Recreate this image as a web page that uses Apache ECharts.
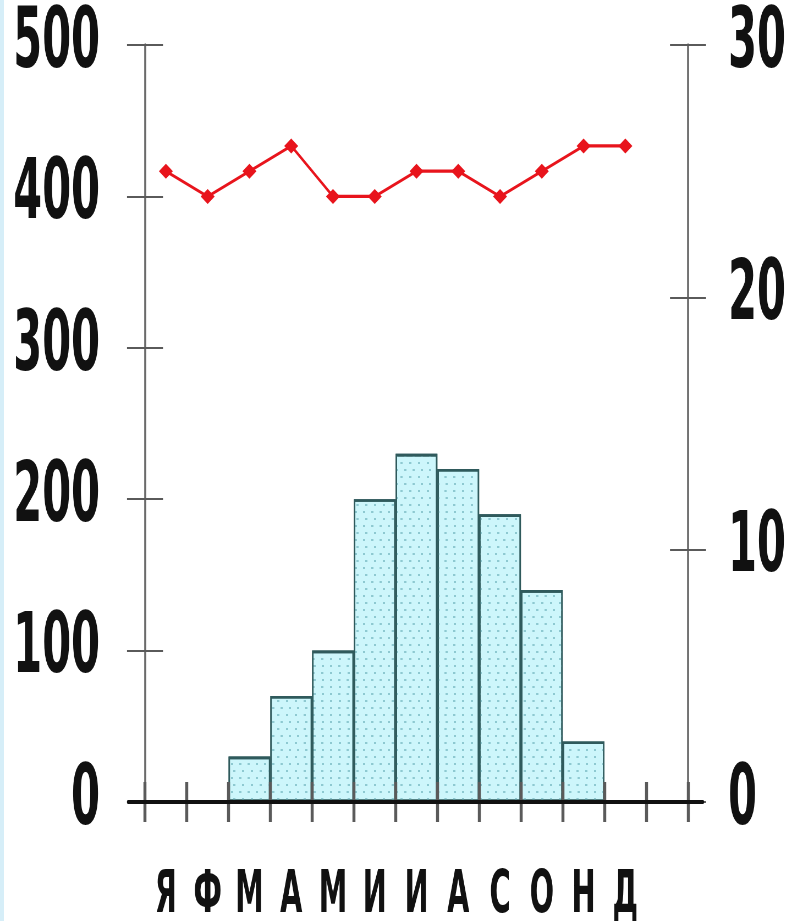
<!DOCTYPE html>
<html>
<head>
<meta charset="utf-8">
<script src="https://cdn.jsdelivr.net/npm/echarts@6/dist/echarts.min.js"></script>
<style>
html,body{margin:0;padding:0;background:#fff;overflow:hidden;width:792px;height:921px;}
#edge{position:absolute;left:0;top:0;width:4px;height:921px;background:#d6eef8;z-index:2;}
#wrap{position:absolute;left:0;top:0;width:792px;height:921px;overflow:hidden;}
#c{position:absolute;left:0;top:0;height:921px;transform-origin:0 0;}
</style>
</head>
<body>
<div id="wrap"><div id="c"></div></div>
<div id="edge"></div>
<script>
// Months (13th slot is an empty spacer column, as in the original)
const months = ['Январь','Февраль','Март','Апрель','Май','Июнь','Июль','Август','Сентябрь','Октябрь','Ноябрь','Декабрь',''];
const monthLetters = ['Я','Ф','М','А','М','И','И','А','С','О','Н','Д',''];
// Precipitation, mm (left axis)
const precipitation = [0,0,30,70,100,200,230,220,190,140,40,0];
// Temperature, °C (right axis)
const temperature = [25,24,25,26,24,24,25,25,24,25,26,26];
// Axis ranges
const leftTicks = {min:0,max:500,interval:100};
const rightTicks = {min:0,max:30,interval:10};

// The original uses a very condensed bold face; emulate by drawing the chart
// wider and squeezing it horizontally. S converts final px to drawing px.
const SX = 0.55, S = 1/SX;
const el = document.getElementById('c');
el.style.width = (792*S) + 'px';
el.style.transform = 'scaleX(' + SX + ')';

const FONT = "'DejaVu Sans Condensed','DejaVu Sans',sans-serif";
const tickGray = '#5a5a5a';
const axisGray = '#6a6a6a';

const chart = echarts.init(el, null, {renderer:'canvas', width:792*S, height:921});
chart.setOption({
  backgroundColor:'#ffffff',
  animation:false,
  grid:[
    {left:145*S, right:104*S, top:45, bottom:119, containLabel:false, outerBoundsMode:'none'},
    {left:128*S, right:89*S, top:45, bottom:119, containLabel:false, outerBoundsMode:'none'}
  ],
  xAxis:[
    {type:'category', gridIndex:0, data:months, boundaryGap:true, position:'bottom', z:10,
     axisLine:{show:false},
     axisTick:{show:true, inside:false, length:20, lineStyle:{color:tickGray,width:3*S}},
     axisLabel:{show:true, interval:0, margin:66, fontFamily:FONT, fontWeight:'bold', fontSize:58, color:'#111',
       formatter:(v,i)=>monthLetters[i]||''},
     splitLine:{show:false}},
    {type:'category', gridIndex:0, data:months, boundaryGap:true, position:'bottom', z:10,
     axisLine:{show:false},
     axisTick:{show:true, inside:true, length:20, lineStyle:{color:tickGray,width:3*S}},
     axisLabel:{show:false}, splitLine:{show:false}},
    {type:'category', gridIndex:1, data:months, position:'bottom', z:11,
     axisLine:{show:true, lineStyle:{color:'#111',width:4}},
     axisTick:{show:false}, axisLabel:{show:false}, splitLine:{show:false}}
  ],
  yAxis:[
    {type:'value', gridIndex:0, position:'left', min:leftTicks.min, max:leftTicks.max, interval:leftTicks.interval,
     axisLine:{show:true, lineStyle:{color:axisGray,width:2*S}},
     axisTick:{show:true, inside:false, length:18*S, lineStyle:{color:tickGray,width:2}},
     axisLabel:{margin:45*S, fontFamily:FONT, fontWeight:'bold', fontSize:84, color:'#111'},
     splitLine:{show:false}},
    {type:'value', gridIndex:0, position:'right', min:rightTicks.min, max:rightTicks.max, interval:rightTicks.interval,
     axisLine:{show:true, lineStyle:{color:axisGray,width:2*S}},
     axisTick:{show:true, inside:false, length:18*S, lineStyle:{color:tickGray,width:2}},
     axisLabel:{margin:40*S, fontFamily:FONT, fontWeight:'bold', fontSize:84, color:'#111'},
     splitLine:{show:false}},
    {type:'value', gridIndex:0, position:'left', min:leftTicks.min, max:leftTicks.max, interval:leftTicks.interval,
     axisLine:{show:false},
     axisTick:{show:true, inside:true, length:18*S, lineStyle:{color:tickGray,width:2}},
     axisLabel:{show:false}, splitLine:{show:false}},
    {type:'value', gridIndex:0, position:'right', min:rightTicks.min, max:rightTicks.max, interval:rightTicks.interval,
     axisLine:{show:false},
     axisTick:{show:true, inside:true, length:18*S, lineStyle:{color:tickGray,width:2}},
     axisLabel:{show:false}, splitLine:{show:false}},
    {type:'value', gridIndex:1, show:false, min:0, max:1}
  ],
  series:[
    {type:'bar', name:'Осадки', xAxisIndex:0, yAxisIndex:0, data:precipitation,
     barCategoryGap:'0%', barGap:'0%', z:1,
     itemStyle:{color:'#cdf6fb', borderColor:'#2f5a5c', borderWidth:2.6,
       decal:{symbol:'rect', symbolSize:1, color:'#8ec9d1',
         dashArrayX:[[2*S,6*S],[0,4*S,2*S,2*S]], dashArrayY:[2,5], rotation:0}}},
    {type:'line', name:'Температура', xAxisIndex:0, yAxisIndex:1, data:temperature,
     z:5, symbol:'diamond', symbolSize:[14*S,15], showSymbol:true,
     lineStyle:{color:'#e8141c', width:3.2}, itemStyle:{color:'#e8141c'}}
  ]
});
</script>
</body>
</html>
